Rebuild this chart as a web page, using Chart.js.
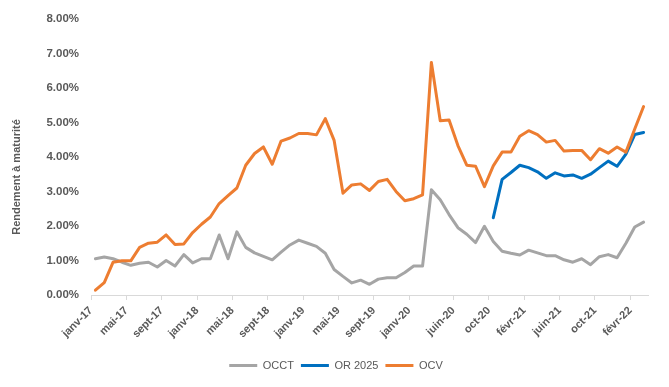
<!DOCTYPE html>
<html>
<head>
<meta charset="utf-8">
<script src="https://cdn.jsdelivr.net/npm/chart.js@4.4.0/dist/chart.umd.min.js"></script>
<style>
  html, body { margin: 0; padding: 0; background: #fff; }
  #wrap { width: 669px; height: 387px; }
</style>
</head>
<body>
<div id="wrap"><canvas id="chart"></canvas></div>
<script>
// Mois : index 0 = janv-17 ... 62 = mars-22
const tickMonths = [0, 4, 8, 12, 16, 20, 24, 28, 32, 36, 41, 45, 49, 53, 57, 61];
const tickLabels = ["janv-17", "mai-17", "sept-17", "janv-18", "mai-18", "sept-18", "janv-19", "mai-19",
                    "sept-19", "janv-20", "juin-20", "oct-20", "févr-21", "juin-21", "oct-21", "févr-22"];
const nbMonths = 63;

// Rendements (%)
const occt = [1.05, 1.10, 1.05, 0.95, 0.86, 0.92, 0.95, 0.81, 1.00, 0.84, 1.17, 0.93, 1.05, 1.05, 1.74, 1.05,
              1.83, 1.38, 1.22, 1.12, 1.02, 1.24, 1.45, 1.59, 1.50, 1.41, 1.21, 0.74, 0.54, 0.35, 0.43, 0.31,
              0.46, 0.50, 0.50, 0.65, 0.84, 0.84, 3.05, 2.76, 2.33, 1.95, 1.76, 1.52, 1.99, 1.55, 1.27, 1.21,
              1.16, 1.30, 1.22, 1.14, 1.14, 1.02, 0.95, 1.05, 0.88, 1.11, 1.17, 1.08, 1.50, 1.97, 2.11];
const or2025 = [null, null, null, null, null, null, null, null, null, null, null, null, null, null, null, null,
                null, null, null, null, null, null, null, null, null, null, null, null, null, null, null, null,
                null, null, null, null, null, null, null, null, null, null, null, null, null, 2.24, 3.35, 3.55,
                3.76, 3.69, 3.57, 3.38, 3.54, 3.45, 3.48, 3.38, 3.50, 3.69, 3.88, 3.73, 4.08, 4.65, 4.71];
const ocv = [0.14, 0.36, 0.95, 0.99, 0.99, 1.38, 1.50, 1.53, 1.74, 1.46, 1.48, 1.81, 2.05, 2.26, 2.65, 2.88,
             3.10, 3.76, 4.10, 4.29, 3.79, 4.46, 4.55, 4.68, 4.68, 4.64, 5.11, 4.48, 2.95, 3.19, 3.22, 3.03,
             3.29, 3.35, 3.00, 2.73, 2.79, 2.90, 6.74, 5.05, 5.07, 4.33, 3.76, 3.73, 3.14, 3.74, 4.14, 4.14,
             4.60, 4.76, 4.65, 4.43, 4.48, 4.17, 4.19, 4.19, 3.92, 4.24, 4.11, 4.29, 4.14, 4.81, 5.46];

// chaque point au milieu de son mois
const toPoints = arr => arr.map((v, i) => ({ x: i + 0.5, y: v }));

const grey = "#595959";
Chart.defaults.font.family = "'Liberation Sans', Arial, sans-serif";
Chart.defaults.color = grey;

const line = (label, data, color, order) => ({
    label,
    data: toPoints(data),
    borderColor: color,
    backgroundColor: color,
    borderWidth: 3,
    pointRadius: 0,
    tension: 0,
    borderJoinStyle: "round",
    borderCapStyle: "round",
    spanGaps: false,
    order
});

// titre de l'axe Y, centré comme dans Excel (un peu plus bas que le milieu)
const yTitle = {
    id: "yTitle",
    afterDraw(chart) {
        const ctx = chart.ctx;
        ctx.save();
        ctx.translate(17, 177);
        ctx.rotate(-Math.PI / 2);
        ctx.textAlign = "center";
        ctx.textBaseline = "middle";
        ctx.fillStyle = grey;
        ctx.font = "bold 11px 'Liberation Sans', Arial, sans-serif";
        ctx.fillText("Rendement à maturité", 0, 0);
        ctx.restore();
    }
};

// décale la légende vers la droite (centrée sur toute la largeur)
const legendShift = {
    id: "legendShift",
    afterLayout(chart) {
        chart.legend.left += 12;
        chart.legend.right += 12;
    }
};

new Chart(document.getElementById("chart"), {
    type: "line",
    data: {
        datasets: [
            line("OCCT", occt, "#A5A5A5", 2),
            line("OR 2025", or2025, "#0070C0", 1),
            line("OCV", ocv, "#ED7D31", 0)
        ]
    },
    plugins: [yTitle, legendShift],
    options: {
        responsive: true,
        maintainAspectRatio: false,
        animation: false,
        layout: { padding: { left: 0, right: 21, top: 8, bottom: 6 } },
        plugins: {
            tooltip: { enabled: false },
            legend: {
                position: "bottom",
                labels: {
                    usePointStyle: true,
                    pointStyle: "line",
                    pointStyleWidth: 28,
                    boxHeight: 11,
                    padding: 7,
                    color: grey,
                    font: { size: 11 },
                    sort: (a, b) => a.datasetIndex - b.datasetIndex
                }
            }
        },
        scales: {
            x: {
                type: "linear",
                min: 0,
                max: nbMonths,
                afterBuildTicks: scale => {
                    scale.ticks = tickMonths.map(v => ({ value: v }));
                },
                afterFit: scale => { scale.height = 58; },
                ticks: {
                    autoSkip: false,
                    minRotation: 45,
                    maxRotation: 45,
                    padding: 4,
                    color: grey,
                    font: { size: 11, weight: "bold" },
                    callback: (value, index) => tickLabels[index]
                },
                grid: {
                    drawOnChartArea: false,
                    drawTicks: true,
                    tickLength: 5,
                    color: "#D9D9D9"
                },
                border: { display: true, color: "#D9D9D9", width: 1 }
            },
            y: {
                min: 0,
                max: 8,
                afterFit: scale => { scale.width = 91; },
                ticks: {
                    stepSize: 1,
                    padding: 12,
                    color: grey,
                    font: { size: 11.5, weight: "bold" },
                    callback: v => v.toFixed(2) + "%"
                },
                grid: { display: false, drawTicks: false },
                border: { display: false },
                title: { display: false }
            }
        }
    }
});
</script>
</body>
</html>
